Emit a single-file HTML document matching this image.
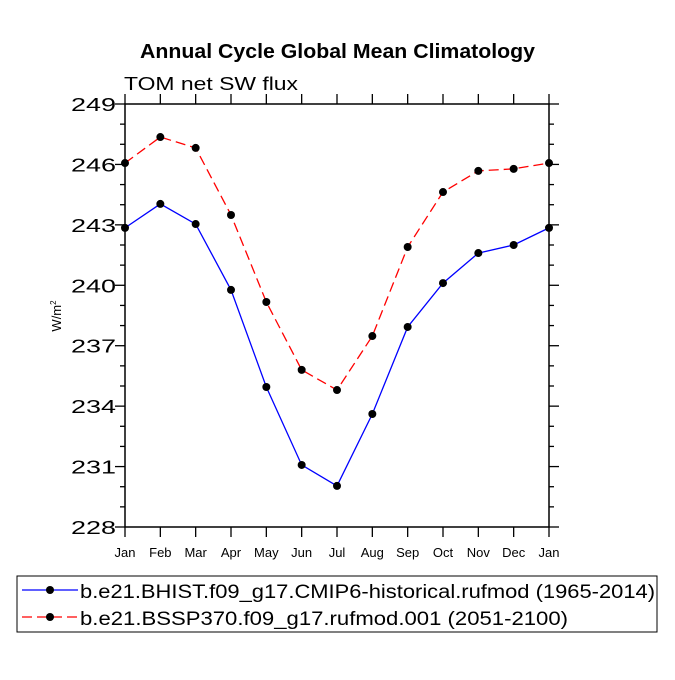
<!DOCTYPE html>
<html><head><meta charset="utf-8"><style>
body{margin:0;background:#fff}
svg text{font-family:"Liberation Sans",sans-serif}
</style></head><body>
<svg width="675" height="675" xmlns="http://www.w3.org/2000/svg">
<rect width="675" height="675" fill="#fff"/>
<text x="140" y="58" textLength="395" lengthAdjust="spacingAndGlyphs" font-size="20" font-weight="bold">Annual Cycle Global Mean Climatology</text>
<text x="124" y="90" textLength="174" lengthAdjust="spacingAndGlyphs" font-size="18">TOM net SW flux</text>
<text transform="translate(61,316) rotate(-90)" text-anchor="middle" font-size="13">W/m<tspan font-size="8" dy="-5">2</tspan></text>
<g id="axes"></g>
<g id="series"></g>
<g>
<rect x="17" y="576" width="640" height="56" fill="none" stroke="#000"/>
<g>
<line x1="22" y1="590" x2="78" y2="590" stroke="#0000ff" stroke-width="1.3"/><circle cx="50" cy="590" r="4"/>
<text x="80" y="598" textLength="575" lengthAdjust="spacingAndGlyphs" font-size="19">b.e21.BHIST.f09_g17.CMIP6-historical.rufmod (1965-2014)</text></g>
<g>
<line x1="22" y1="617" x2="78" y2="617" stroke="#ff0000" stroke-width="1.3" stroke-dasharray="10,5"/><circle cx="50" cy="617" r="4"/>
<text x="80" y="625" textLength="488" lengthAdjust="spacingAndGlyphs" font-size="19">b.e21.BSSP370.f09_g17.rufmod.001 (2051-2100)</text></g>
</g>
</svg>
<script>
const months=["Jan","Feb","Mar","Apr","May","Jun","Jul","Aug","Sep","Oct","Nov","Dec","Jan"];
const yTicks=[228,231,234,237,240,243,246,249];
const histVals=[242.85,244.04,243.04,239.77,234.95,231.08,230.04,233.61,237.93,240.11,241.6,242.0,242.85];
const sspVals=[246.07,247.36,246.82,243.49,239.17,235.8,234.8,237.48,241.9,244.63,245.68,245.78,246.07];
const L=125,R=549,T=104,B=527,ymin=228,ymax=249;
const xs=i=>L+(R-L)*i/(months.length-1);
const ys=v=>B-(B-T)*(v-ymin)/(ymax-ymin);
const NS="http://www.w3.org/2000/svg";
function mk(tag,attrs,parent){const e=document.createElementNS(NS,tag);for(const k in attrs)e.setAttribute(k,attrs[k]);parent.appendChild(e);return e;}
const ax=document.getElementById('axes');
const frame=mk('rect',{x:L,y:T,width:R-L,height:B-T,fill:'none',stroke:'#000','stroke-width':1.5},ax);


months.forEach((m,i)=>{const x=xs(i);
 mk('line',{x1:x,y1:B,x2:x,y2:B+10,stroke:'#000','stroke-width':1.3},ax);
 mk('line',{x1:x,y1:T,x2:x,y2:T-10,stroke:'#000','stroke-width':1.3},ax);
 const t=mk('text',{x:x,y:B+30,'text-anchor':'middle','font-size':13},ax);t.textContent=m;
 
 
});
for(let v=ymin;v<=ymax;v++){const y=ys(v);const major=(v-ymin)%3===0;const len=major?10:5;
 mk('line',{x1:L,y1:y,x2:L-len,y2:y,stroke:'#000','stroke-width':1.3},ax);
 mk('line',{x1:R,y1:y,x2:R+len,y2:y,stroke:'#000','stroke-width':1.3},ax);}
yTicks.forEach(v=>{const t=mk('text',{x:L-9,y:ys(v)+7,'text-anchor':'end','font-size':18,textLength:45,lengthAdjust:'spacingAndGlyphs'},ax);t.textContent=v;
 
 });
const sg=document.getElementById('series');
function series(vals,color,dash,name){
 const g=mk('g',{},sg);
 
 
 const a={points:vals.map((v,i)=>xs(i)+','+ys(v)).join(' '),fill:'none',stroke:color,'stroke-width':1.3};
 if(dash)a['stroke-dasharray']=dash;
 mk('polyline',a,g);
 vals.forEach((v,i)=>{const c=mk('circle',{cx:xs(i),cy:ys(v),r:4,fill:'#000'},g);
  
  });
}
series(histVals,'#0000ff',null,'series-historical');
series(sspVals,'#ff0000','10,5','series-ssp370');
</script>
</body></html>
